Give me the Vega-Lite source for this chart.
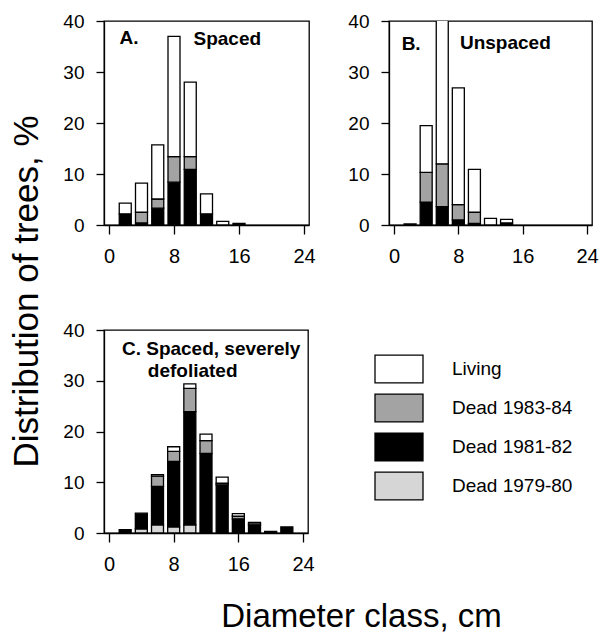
{
  "$schema": "https://vega.github.io/schema/vega-lite/v6.json",
  "padding": {"left": 8, "top": 11, "right": 0, "bottom": 0},
  "background": "white",
  "config": {
    "font": "Liberation Sans",
    "view": {"stroke": "black", "strokeWidth": 1.3},
    "axis": {"domainColor": "black", "domainWidth": 1.3, "tickColor": "black", "tickWidth": 1.3, "labelColor": "black", "titleColor": "black", "grid": false, "labelFlush": false, "labelOverlap": false},
    "axisX": {"tickSize": 9, "labelFontSize": 20, "labelPadding": 12, "labelExpr": "datum.value % 8 === 0 ? datum.label : ''"},
    "axisY": {"tickSize": 8, "labelFontSize": 19, "labelPadding": 12}
  },
  "datasets": {
    "bars": [
      {"panel": "A", "d": 2, "status": "Dead 1981-82", "pct": 2.2},
      {"panel": "A", "d": 2, "status": "Living", "pct": 2.1},
      {"panel": "A", "d": 4, "status": "Dead 1981-82", "pct": 0.4},
      {"panel": "A", "d": 4, "status": "Dead 1983-84", "pct": 2.1},
      {"panel": "A", "d": 4, "status": "Living", "pct": 5.7},
      {"panel": "A", "d": 6, "status": "Dead 1981-82", "pct": 3.3},
      {"panel": "A", "d": 6, "status": "Dead 1983-84", "pct": 1.8},
      {"panel": "A", "d": 6, "status": "Living", "pct": 10.6},
      {"panel": "A", "d": 8, "status": "Dead 1981-82", "pct": 8.4},
      {"panel": "A", "d": 8, "status": "Dead 1983-84", "pct": 5.0},
      {"panel": "A", "d": 8, "status": "Living", "pct": 23.6},
      {"panel": "A", "d": 10, "status": "Dead 1981-82", "pct": 10.9},
      {"panel": "A", "d": 10, "status": "Dead 1983-84", "pct": 2.5},
      {"panel": "A", "d": 10, "status": "Living", "pct": 14.6},
      {"panel": "A", "d": 12, "status": "Dead 1981-82", "pct": 2.2},
      {"panel": "A", "d": 12, "status": "Living", "pct": 3.9},
      {"panel": "A", "d": 14, "status": "Living", "pct": 0.7},
      {"panel": "A", "d": 16, "status": "Dead 1981-82", "pct": 0.3},
      {"panel": "B", "d": 2, "status": "Living", "pct": 0.2},
      {"panel": "B", "d": 4, "status": "Dead 1981-82", "pct": 4.5},
      {"panel": "B", "d": 4, "status": "Dead 1983-84", "pct": 5.8},
      {"panel": "B", "d": 4, "status": "Living", "pct": 9.2},
      {"panel": "B", "d": 6, "status": "Dead 1981-82", "pct": 3.6},
      {"panel": "B", "d": 6, "status": "Dead 1983-84", "pct": 8.4},
      {"panel": "B", "d": 6, "status": "Living", "pct": 28.3},
      {"panel": "B", "d": 8, "status": "Dead 1981-82", "pct": 1.0},
      {"panel": "B", "d": 8, "status": "Dead 1983-84", "pct": 3.0},
      {"panel": "B", "d": 8, "status": "Living", "pct": 22.9},
      {"panel": "B", "d": 10, "status": "Dead 1981-82", "pct": 0.3},
      {"panel": "B", "d": 10, "status": "Dead 1983-84", "pct": 2.2},
      {"panel": "B", "d": 10, "status": "Living", "pct": 8.4},
      {"panel": "B", "d": 12, "status": "Living", "pct": 1.3},
      {"panel": "B", "d": 14, "status": "Dead 1981-82", "pct": 0.4},
      {"panel": "B", "d": 14, "status": "Living", "pct": 0.7},
      {"panel": "C", "d": 2, "status": "Dead 1981-82", "pct": 0.65},
      {"panel": "C", "d": 4, "status": "Dead 1979-80", "pct": 0.8},
      {"panel": "C", "d": 4, "status": "Dead 1981-82", "pct": 3.1},
      {"panel": "C", "d": 6, "status": "Dead 1979-80", "pct": 1.6},
      {"panel": "C", "d": 6, "status": "Dead 1981-82", "pct": 7.6},
      {"panel": "C", "d": 6, "status": "Dead 1983-84", "pct": 2.0},
      {"panel": "C", "d": 6, "status": "Living", "pct": 0.3},
      {"panel": "C", "d": 8, "status": "Dead 1979-80", "pct": 1.2},
      {"panel": "C", "d": 8, "status": "Dead 1981-82", "pct": 12.9},
      {"panel": "C", "d": 8, "status": "Dead 1983-84", "pct": 2.0},
      {"panel": "C", "d": 8, "status": "Living", "pct": 0.9},
      {"panel": "C", "d": 10, "status": "Dead 1979-80", "pct": 1.6},
      {"panel": "C", "d": 10, "status": "Dead 1981-82", "pct": 22.3},
      {"panel": "C", "d": 10, "status": "Dead 1983-84", "pct": 4.6},
      {"panel": "C", "d": 10, "status": "Living", "pct": 0.9},
      {"panel": "C", "d": 12, "status": "Dead 1981-82", "pct": 15.7},
      {"panel": "C", "d": 12, "status": "Dead 1983-84", "pct": 2.5},
      {"panel": "C", "d": 12, "status": "Living", "pct": 1.3},
      {"panel": "C", "d": 14, "status": "Dead 1981-82", "pct": 9.5},
      {"panel": "C", "d": 14, "status": "Dead 1983-84", "pct": 0.3},
      {"panel": "C", "d": 14, "status": "Living", "pct": 1.2},
      {"panel": "C", "d": 16, "status": "Dead 1981-82", "pct": 2.8},
      {"panel": "C", "d": 16, "status": "Dead 1983-84", "pct": 0.5},
      {"panel": "C", "d": 16, "status": "Living", "pct": 0.5},
      {"panel": "C", "d": 18, "status": "Dead 1981-82", "pct": 1.5},
      {"panel": "C", "d": 18, "status": "Dead 1983-84", "pct": 0.3},
      {"panel": "C", "d": 18, "status": "Living", "pct": 0.3},
      {"panel": "C", "d": 20, "status": "Dead 1981-82", "pct": 0.3},
      {"panel": "C", "d": 22, "status": "Dead 1981-82", "pct": 1.2}
    ],
    "notes": [
      {"panel": "A", "x": 1.3, "y": 36.6, "label": "A."},
      {"panel": "A", "x": 10.4, "y": 36.4, "label": "Spaced"},
      {"panel": "B", "x": 0.95, "y": 35.5, "label": "B."},
      {"panel": "B", "x": 8.2, "y": 35.7, "label": "Unspaced"},
      {"panel": "C", "x": 1.6, "y": 36.3, "label": "C. Spaced, severely"},
      {"panel": "C", "x": 4.8, "y": 31.9, "label": "defoliated"}
    ]
  },
  "bounds": "flush",
  "columns": 2,
  "spacing": {"row": 105, "column": 80},
  "resolve": {"scale": {"fill": "independent"}, "legend": {"fill": "independent"}},
  "concat": [
    {
      "width": 205, "height": 204,
      "layer": [
        {
          "data": {"name": "bars"},
          "transform": [{"filter": "datum.panel === 'A'"}],
          "mark": {"type": "bar", "size": 12, "stroke": "black", "strokeWidth": 1.3, "clip": true},
          "encoding": {
            "x": {"field": "d", "type": "quantitative", "scale": {"domain": [0, 24], "nice": false}, "title": null, "axis": {"values": [0, 2, 4, 6, 8, 10, 12, 14, 16, 18, 20, 22, 24]}},
            "y": {"field": "pct", "type": "quantitative", "stack": "zero", "scale": {"domain": [0, 40], "nice": false}, "title": "Distribution of trees, %", "axis": {"values": [0, 10, 20, 30, 40], "titleFontSize": 35, "titleFontWeight": "normal", "titleAngle": -90, "titleX": -78, "titleY": 270, "titleAlign": "center", "titleBaseline": "middle"}},
            "fill": {"field": "status", "type": "nominal", "legend": null, "scale": {"domain": ["Living", "Dead 1983-84", "Dead 1981-82", "Dead 1979-80"], "range": ["#ffffff", "#a3a3a3", "#000000", "#d6d6d6"]}},
            "order": {"field": "status", "sort": "ascending"}
          }
        },
        {
          "data": {"name": "notes"},
          "transform": [{"filter": "datum.panel === 'A'"}],
          "mark": {"type": "text", "align": "left", "baseline": "middle", "fontWeight": "bold", "fontSize": 19, "color": "black"},
          "encoding": {
            "x": {"field": "x", "type": "quantitative", "title": null},
            "y": {"field": "y", "type": "quantitative", "title": "Distribution of trees, %"},
            "text": {"field": "label"}
          }
        }
      ]
    },
    {
      "width": 203, "height": 204,
      "layer": [
        {
          "data": {"name": "bars"},
          "transform": [{"filter": "datum.panel === 'B'"}],
          "mark": {"type": "bar", "size": 12, "stroke": "black", "strokeWidth": 1.3, "clip": true},
          "encoding": {
            "x": {"field": "d", "type": "quantitative", "scale": {"domain": [0, 24], "nice": false}, "title": null, "axis": {"values": [0, 2, 4, 6, 8, 10, 12, 14, 16, 18, 20, 22, 24]}},
            "y": {"field": "pct", "type": "quantitative", "stack": "zero", "scale": {"domain": [0, 40], "nice": false}, "title": null, "axis": {"values": [0, 10, 20, 30, 40]}},
            "fill": {"field": "status", "type": "nominal", "legend": null, "scale": {"domain": ["Living", "Dead 1983-84", "Dead 1981-82", "Dead 1979-80"], "range": ["#ffffff", "#a3a3a3", "#000000", "#d6d6d6"]}},
            "order": {"field": "status", "sort": "ascending"}
          }
        },
        {
          "data": {"name": "notes"},
          "transform": [{"filter": "datum.panel === 'B'"}],
          "mark": {"type": "text", "align": "left", "baseline": "middle", "fontWeight": "bold", "fontSize": 19, "color": "black"},
          "encoding": {
            "x": {"field": "x", "type": "quantitative", "title": null},
            "y": {"field": "y", "type": "quantitative", "title": null},
            "text": {"field": "label"}
          }
        }
      ]
    },
    {
      "width": 204, "height": 203,
      "layer": [
        {
          "data": {"name": "bars"},
          "transform": [{"filter": "datum.panel === 'C'"}],
          "mark": {"type": "bar", "size": 12, "stroke": "black", "strokeWidth": 1.3, "clip": true},
          "encoding": {
            "x": {"field": "d", "type": "quantitative", "scale": {"domain": [0, 24], "nice": false}, "title": "Diameter class, cm", "axis": {"values": [0, 2, 4, 6, 8, 10, 12, 14, 16, 18, 20, 22, 24], "titleFontSize": 33, "titleFontWeight": "normal", "titleX": 257, "titleY": 93, "titleAlign": "center", "titleBaseline": "alphabetic"}},
            "y": {"field": "pct", "type": "quantitative", "stack": "zero", "scale": {"domain": [0, 40], "nice": false}, "title": null, "axis": {"values": [0, 10, 20, 30, 40]}},
            "fill": {"field": "status", "type": "nominal", "legend": {"orient": "none", "legendX": 270, "legendY": 24, "title": null, "symbolType": "M-1,-0.58H1V0.58H-1Z", "symbolSize": 2304, "symbolStrokeColor": "black", "symbolStrokeWidth": 1.3, "labelFontSize": 19, "labelColor": "black", "labelOffset": 28, "clipHeight": 30, "rowPadding": 9, "padding": 0}, "scale": {"domain": ["Living", "Dead 1983-84", "Dead 1981-82", "Dead 1979-80"], "range": ["#ffffff", "#a3a3a3", "#000000", "#d6d6d6"]}},
            "order": {"field": "status", "sort": "ascending"}
          }
        },
        {
          "data": {"name": "notes"},
          "transform": [{"filter": "datum.panel === 'C'"}],
          "mark": {"type": "text", "align": "left", "baseline": "middle", "fontWeight": "bold", "fontSize": 19, "color": "black"},
          "encoding": {
            "x": {"field": "x", "type": "quantitative", "title": "Diameter class, cm"},
            "y": {"field": "y", "type": "quantitative", "title": null},
            "text": {"field": "label"}
          }
        }
      ]
    }
  ]
}
